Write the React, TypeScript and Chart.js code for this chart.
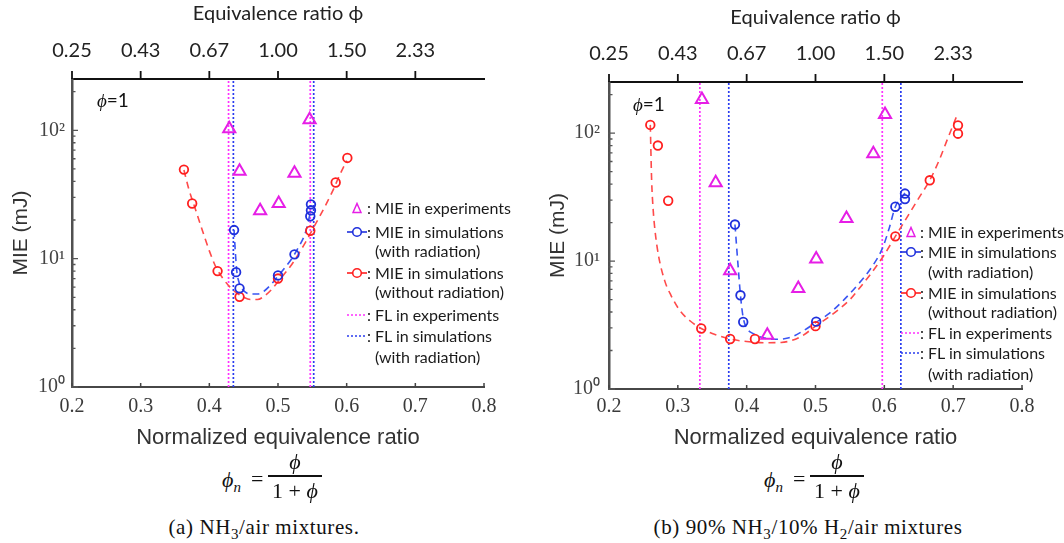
import React, { useEffect, useRef } from 'react';
import { Chart, registerables } from 'chart.js';

Chart.register(...registerables);

// ---------- colours ----------
const MAGENTA = '#e61ee6';
const RED = '#ff1f1f';
const BLUE = '#1f30dc';
const RED_FIT = '#ff4a4a';
const BLUE_FIT = '#3a55f2';
const FL_MAG = '#ff30ff';
const FL_BLUE = '#2a3cf0';

// ---------- axes ----------
const bottomTickValues = [0.2, 0.3, 0.4, 0.5, 0.6, 0.7, 0.8];
const bottomTickLabels = ['0.2', '0.3', '0.4', '0.5', '0.6', '0.7', '0.8'];
const topTickValues = [0.2, 0.3, 0.4, 0.5, 0.6, 0.7];
const topTickLabels = ['0.25', '0.43', '0.67', '1.00', '1.50', '2.33'];
const yMajorValues = [1, 10, 100];
const yTickLabels = ['10⁰', '10¹', '10²'];
const Y_MIN = 1;
const Y_MAX = 251;

// ---------- (a) NH3/air ----------
const aExpX = [0.429, 0.444, 0.474, 0.501, 0.524, 0.546];
const aExpY = [103, 48, 23.6, 26.9, 46.3, 121];
const aRadX = [0.436, 0.439, 0.444, 0.5, 0.524, 0.547, 0.548, 0.548];
const aRadY = [16.7, 7.85, 5.87, 7.4, 10.8, 21.4, 23.8, 26.5];
const aNoRadX = [0.363, 0.375, 0.412, 0.444, 0.5, 0.547, 0.584, 0.601];
const aNoRadY = [49.4, 26.9, 8.0, 5.04, 7.0, 16.5, 39.2, 60.9];
const aNoRadFitX = [0.363, 0.37, 0.38, 0.39, 0.4, 0.41, 0.42, 0.43, 0.44, 0.45, 0.46, 0.47, 0.48, 0.49, 0.5, 0.51, 0.52, 0.53, 0.54, 0.55, 0.56, 0.57, 0.58, 0.59, 0.6];
const aNoRadFitY = [49, 35, 24, 16.5, 11.5, 8.5, 7.0, 6.0, 5.4, 5.0, 4.8, 4.8, 5.1, 5.7, 6.6, 7.7, 9.0, 10.9, 13.4, 16.8, 21, 26.5, 34, 45, 58];
const aRadFitX = [0.436, 0.438, 0.44, 0.443, 0.447, 0.452, 0.46, 0.47, 0.48, 0.49, 0.5, 0.51, 0.52, 0.53, 0.54, 0.548];
const aRadFitY = [16.7, 11, 8.0, 6.6, 5.9, 5.5, 5.3, 5.3, 5.6, 6.3, 7.3, 8.5, 10.0, 12.3, 16, 24];
const aFLExp = [0.428, 0.547];
const aFLSim = [0.435, 0.552];

// ---------- (b) 90% NH3 / 10% H2 / air ----------
const bExpX = [0.335, 0.355, 0.376, 0.43, 0.475, 0.501, 0.545, 0.584, 0.601];
const bExpY = [183, 41, 8.4, 2.63, 6.1, 10.4, 21.5, 69, 140];
const bRadX = [0.383, 0.391, 0.395, 0.501, 0.616, 0.63, 0.63];
const bRadY = [19.3, 5.4, 3.34, 3.36, 26.6, 33.7, 30.5];
const bNoRadX = [0.26, 0.271, 0.286, 0.334, 0.376, 0.412, 0.5, 0.616, 0.666, 0.707, 0.707];
const bNoRadY = [116, 80, 29.6, 2.97, 2.46, 2.46, 3.1, 15.6, 42.8, 115, 99];
const bNoRadFitX = [0.26, 0.262, 0.264, 0.267, 0.272, 0.281, 0.29, 0.303, 0.318, 0.334, 0.35, 0.376, 0.4, 0.43, 0.45, 0.478, 0.5, 0.526, 0.55, 0.565, 0.58, 0.599, 0.616, 0.63, 0.65, 0.666, 0.68, 0.69, 0.707];
const bNoRadFitY = [116, 42, 26, 17, 11, 7.0, 5.4, 4.1, 3.4, 2.97, 2.72, 2.46, 2.35, 2.3, 2.31, 2.55, 3.1, 3.88, 5.0, 6.25, 7.9, 11, 15.6, 20.7, 31, 42.8, 62, 85, 144];
const bRadFitX = [0.383, 0.387, 0.391, 0.395, 0.4, 0.41, 0.42, 0.44, 0.46, 0.48, 0.5, 0.52, 0.54, 0.56, 0.58, 0.597, 0.607, 0.616, 0.63];
const bRadFitY = [19.3, 10, 5.4, 3.6, 3.0, 2.7, 2.55, 2.45, 2.5, 2.8, 3.3, 3.9, 4.9, 6.4, 8.7, 12.5, 18, 26.6, 34];
const bFLExp = [0.332, 0.597];
const bFLSim = [0.374, 0.624];

const zip = (xs: number[], ys: number[]) => xs.map((x, i) => ({ x, y: ys[i] }));

interface Geom {
  yW: number; topH: number; bottomH: number; padRight: number;
  yTitlePad: number; topTitlePad: number; topTickPad: number;
  bottomTickPad: number; yTickPad: number; xTitlePad: number;
}
interface PanelData {
  expX: number[]; expY: number[]; radX: number[]; radY: number[];
  noRadX: number[]; noRadY: number[]; radFitX: number[]; radFitY: number[];
  noRadFitX: number[]; noRadFitY: number[]; flExp: number[]; flSim: number[];
}

const tickMarks = {
  id: 'tickMarks',
  afterDraw(chart: any) {
    const { ctx, chartArea: ca, scales } = chart;
    const x = scales.x, x2 = scales.x2, y = scales.y;
    ctx.save();
    ctx.strokeStyle = '#444';
    ctx.lineWidth = 1.5;
    ctx.beginPath();
    for (const v of bottomTickValues) {
      const px = x.getPixelForValue(v);
      ctx.moveTo(px, ca.bottom);
      ctx.lineTo(px, ca.bottom - 4);
    }
    ctx.stroke();
    ctx.strokeStyle = '#111';
    ctx.lineWidth = 1.8;
    ctx.beginPath();
    for (const v of topTickValues) {
      const px = x2.getPixelForValue(v);
      ctx.moveTo(px, ca.top);
      ctx.lineTo(px, ca.top - 8);
    }
    ctx.stroke();
    ctx.strokeStyle = '#555';
    ctx.lineWidth = 1.3;
    ctx.beginPath();
    for (const d of yMajorValues) {
      for (let m = 1; m <= 9; m++) {
        const v = d * m;
        if (v > Y_MAX) break;
        const py = y.getPixelForValue(v);
        const len = m === 1 ? 6 : 3.5;
        ctx.moveTo(ca.left - 1, py);
        ctx.lineTo(ca.left + len, py);
      }
    }
    ctx.stroke();
    ctx.restore();
  },
};

function makeChart(canvas: HTMLCanvasElement, d: PanelData, g: Geom) {
  const vline = (v: number, color: string) => ({
    data: [{ x: v, y: Y_MIN }, { x: v, y: Y_MAX }],
    showLine: true, borderColor: color, borderWidth: 1.7, borderDash: [2, 2],
    pointRadius: 0, fill: false,
  });
  return new Chart(canvas, {
    type: 'scatter',
    data: {
      datasets: [
        { data: zip(d.expX, d.expY), pointStyle: 'triangle', pointRadius: 7, borderWidth: 2, borderColor: MAGENTA, backgroundColor: 'rgba(0,0,0,0)' },
        { data: zip(d.radX, d.radY), pointStyle: 'circle', pointRadius: 4.3, borderWidth: 1.8, borderColor: BLUE, backgroundColor: 'rgba(0,0,0,0)' },
        { data: zip(d.noRadX, d.noRadY), pointStyle: 'circle', pointRadius: 4.3, borderWidth: 1.8, borderColor: RED, backgroundColor: 'rgba(0,0,0,0)' },
        { data: zip(d.radFitX, d.radFitY), showLine: true, pointRadius: 0, borderColor: BLUE_FIT, borderWidth: 1.6, borderDash: [7, 5], cubicInterpolationMode: 'monotone' },
        { data: zip(d.noRadFitX, d.noRadFitY), showLine: true, pointRadius: 0, borderColor: RED_FIT, borderWidth: 1.6, borderDash: [7, 5], cubicInterpolationMode: 'monotone' },
        vline(d.flExp[0], FL_MAG), vline(d.flSim[0], FL_BLUE),
        vline(d.flExp[1], FL_MAG), vline(d.flSim[1], FL_BLUE),
      ] as any,
    },
    options: {
      responsive: false,
      maintainAspectRatio: false,
      animation: false,
      layout: { padding: { left: 0, top: 0, right: g.padRight, bottom: 0 } },
      plugins: { legend: { display: false }, tooltip: { enabled: false } },
      scales: {
        x: {
          type: 'linear', position: 'bottom', min: 0.2, max: 0.8,
          grid: { display: false, drawTicks: false },
          border: { display: true, color: '#474747', width: 2 },
          afterBuildTicks: (s: any) => { s.ticks = bottomTickValues.map((v) => ({ value: v })); },
          afterFit: (s: any) => { s.height = g.bottomH; },
          ticks: {
            autoSkip: false, maxRotation: 0, padding: g.bottomTickPad, color: '#3a3a3a',
            font: { family: '"Liberation Serif", serif', size: 20 },
            callback: (_v: any, i: number) => bottomTickLabels[i],
          },
          title: {
            display: true, text: 'Normalized equivalence ratio', color: '#333',
            font: { family: '"Liberation Sans", Arial, sans-serif', size: 22 },
            padding: { top: 0, bottom: g.xTitlePad },
          },
        },
        x2: {
          type: 'linear', position: 'top', min: 0.2, max: 0.8,
          grid: { display: false, drawTicks: false },
          border: { display: true, color: '#111', width: 2 },
          afterBuildTicks: (s: any) => { s.ticks = topTickValues.map((v) => ({ value: v })); },
          afterFit: (s: any) => { s.height = g.topH; },
          ticks: {
            autoSkip: false, maxRotation: 0, padding: g.topTickPad, color: '#222',
            font: { family: 'Lato, "Open Sans", sans-serif', size: 20 },
            callback: (_v: any, i: number) => topTickLabels[i],
          },
          title: {
            display: true, text: 'Equivalence ratio ϕ', color: '#222',
            font: { family: 'Lato, "Open Sans", sans-serif', size: 20 },
            padding: { top: g.topTitlePad, bottom: 0 },
          },
        },
        y: {
          type: 'logarithmic', position: 'left', min: Y_MIN, max: Y_MAX,
          grid: { display: false, drawTicks: false },
          border: { display: true, color: '#505050', width: 2.5 },
          afterBuildTicks: (s: any) => { s.ticks = yMajorValues.map((v) => ({ value: v, major: true })); },
          afterFit: (s: any) => { s.width = g.yW; },
          ticks: {
            autoSkip: false, padding: g.yTickPad, color: '#444',
            font: { family: '"Liberation Serif", serif', size: 20 },
            callback: (_v: any, i: number) => yTickLabels[i],
          },
          title: {
            display: true, text: 'MIE (mJ)', color: '#333',
            font: { family: '"Liberation Sans", Arial, sans-serif', size: 21 },
            padding: { top: g.yTitlePad, bottom: 0 },
          },
        },
      },
    } as any,
    plugins: [tickMarks],
  });
}

const panelA: PanelData = {
  expX: aExpX, expY: aExpY, radX: aRadX, radY: aRadY, noRadX: aNoRadX, noRadY: aNoRadY,
  radFitX: aRadFitX, radFitY: aRadFitY, noRadFitX: aNoRadFitX, noRadFitY: aNoRadFitY,
  flExp: aFLExp, flSim: aFLSim,
};
const panelB: PanelData = {
  expX: bExpX, expY: bExpY, radX: bRadX, radY: bRadY, noRadX: bNoRadX, noRadY: bNoRadY,
  radFitX: bRadFitX, radFitY: bRadFitY, noRadFitX: bNoRadFitX, noRadFitY: bNoRadFitY,
  flExp: bFLExp, flSim: bFLSim,
};
const geomA: Geom = { yW: 72, topH: 79, bottomH: 73, padRight: 56, yTitlePad: 9, topTitlePad: 2, topTickPad: 16, bottomTickPad: 8, yTickPad: 7, xTitlePad: 9 };
const geomB: Geom = { yW: 69, topH: 82, bottomH: 71, padRight: 42, yTitlePad: 6, topTitlePad: 6, topTickPad: 16, bottomTickPad: 6, yTickPad: 9, xTitlePad: 9 };

function Panel({ left, width, data, geom }: { left: number; width: number; data: PanelData; geom: Geom }) {
  const ref = useRef<HTMLCanvasElement>(null);
  useEffect(() => {
    const chart = makeChart(ref.current as HTMLCanvasElement, data, geom);
    return () => chart.destroy();
  }, []);
  return (
    <canvas ref={ref} width={width} height={460}
      style={{ position: 'absolute', left, top: 0, width, height: 460, display: 'block' }} />
  );
}

const sans = 'Lato, "Open Sans", sans-serif';
const serif = '"Liberation Serif", "DejaVu Serif", serif';

function Legend({ mx, colonX, textX, rows }: { mx: number; colonX: number; textX: number; rows: number[] }) {
  const txt = (y: number, x: number, s: string) => (
    <div style={{ position: 'absolute', left: x, top: y - 10, fontFamily: sans, fontSize: 16, lineHeight: '20px', color: '#1a1a1a', whiteSpace: 'nowrap' }}>{s}</div>
  );
  const lineCircle = (y: number, color: string) => (
    <svg style={{ position: 'absolute', left: mx - 10, top: y - 6 }} width={20} height={12}>
      <line x1={0} y1={6} x2={20} y2={6} stroke={color} strokeWidth={1.6} />
      <circle cx={10} cy={6} r={4.3} fill="white" stroke={color} strokeWidth={1.6} />
    </svg>
  );
  const dotted = (y: number, color: string) => (
    <svg style={{ position: 'absolute', left: mx - 10, top: y - 2 }} width={20} height={4}>
      <line x1={0} y1={2} x2={20} y2={2} stroke={color} strokeWidth={1.6} strokeDasharray="2 2" />
    </svg>
  );
  return (
    <>
      <svg style={{ position: 'absolute', left: mx - 5, top: rows[0] - 6 }} width={10} height={12}>
        <polygon points="5,1.5 9,10.5 1,10.5" fill="none" stroke={MAGENTA} strokeWidth={1.5} />
      </svg>
      {lineCircle(rows[1], BLUE)}
      {lineCircle(rows[3], RED)}
      {dotted(rows[5], FL_MAG)}
      {dotted(rows[6], FL_BLUE)}
      {txt(rows[0], colonX, ':')}
      {txt(rows[1], colonX, ':')}
      {txt(rows[3], colonX, ':')}
      {txt(rows[5], colonX, ':')}
      {txt(rows[6], colonX, ':')}
      {txt(rows[0], textX, 'MIE in experiments')}
      {txt(rows[1], textX, 'MIE in simulations')}
      {txt(rows[2], textX, '(with radiation)')}
      {txt(rows[3], textX, 'MIE in simulations')}
      {txt(rows[4], textX, '(without radiation)')}
      {txt(rows[5], textX, 'FL in experiments')}
      {txt(rows[6], textX, 'FL in simulations')}
      {txt(rows[7], textX, '(with radiation)')}
    </>
  );
}

function PhiNote({ x, y }: { x: number; y: number }) {
  return (
    <div style={{ position: 'absolute', left: x, top: y - 11, fontSize: 19, lineHeight: '22px', color: '#111', whiteSpace: 'nowrap' }}>
      <i style={{ fontFamily: serif }}>ϕ</i><span style={{ fontFamily: sans }}>=1</span>
    </div>
  );
}

function Formula({ x }: { x: number }) {
  const base = { position: 'absolute' as const, fontFamily: serif, color: '#111', whiteSpace: 'nowrap' as const, lineHeight: '22px', fontSize: 22 };
  return (
    <>
      <div style={{ ...base, left: x, top: 469 }}><i>ϕ</i><sub style={{ fontSize: 15, fontStyle: 'italic' }}>n</sub></div>
      <div style={{ ...base, left: x + 29, top: 468 }}>=</div>
      <div style={{ ...base, left: x + 46, top: 451, width: 54, textAlign: 'center' }}><i>ϕ</i></div>
      <div style={{ position: 'absolute', left: x + 46, top: 475, width: 54, height: 1.5, background: '#111' }} />
      <div style={{ ...base, left: x + 46, top: 480, width: 54, textAlign: 'center' }}>1 + <i>ϕ</i></div>
    </>
  );
}

function Caption({ cx, children }: { cx: number; children: React.ReactNode }) {
  return (
    <div style={{ position: 'absolute', left: cx - 250, width: 500, top: 515, textAlign: 'center', fontFamily: serif, fontSize: 21, letterSpacing: '0.6px', lineHeight: '24px', color: '#111' }}>
      {children}
    </div>
  );
}

export default function App() {
  return (
    <div style={{ position: 'fixed', left: 0, top: 0, width: 1064, height: 543, background: '#fff', overflow: 'hidden' }}>
      <Panel left={0} width={540} data={panelA} geom={geomA} />
      <Panel left={540} width={524} data={panelB} geom={geomB} />
      <PhiNote x={97} y={100} />
      <PhiNote x={633} y={104} />
      <Legend mx={357} colonX={367} textX={375} rows={[208, 232, 251, 273, 292, 315, 336, 357]} />
      <Legend mx={911} colonX={920} textX={928} rows={[232, 252, 272, 293, 312, 333, 353, 374]} />
      <Formula x={222} />
      <Formula x={764} />
      <Caption cx={264}>(a) NH<sub style={{ fontSize: 15 }}>3</sub>/air mixtures.</Caption>
      <Caption cx={808}>(b) 90% NH<sub style={{ fontSize: 15 }}>3</sub>/10% H<sub style={{ fontSize: 15 }}>2</sub>/air mixtures</Caption>
    </div>
  );
}
